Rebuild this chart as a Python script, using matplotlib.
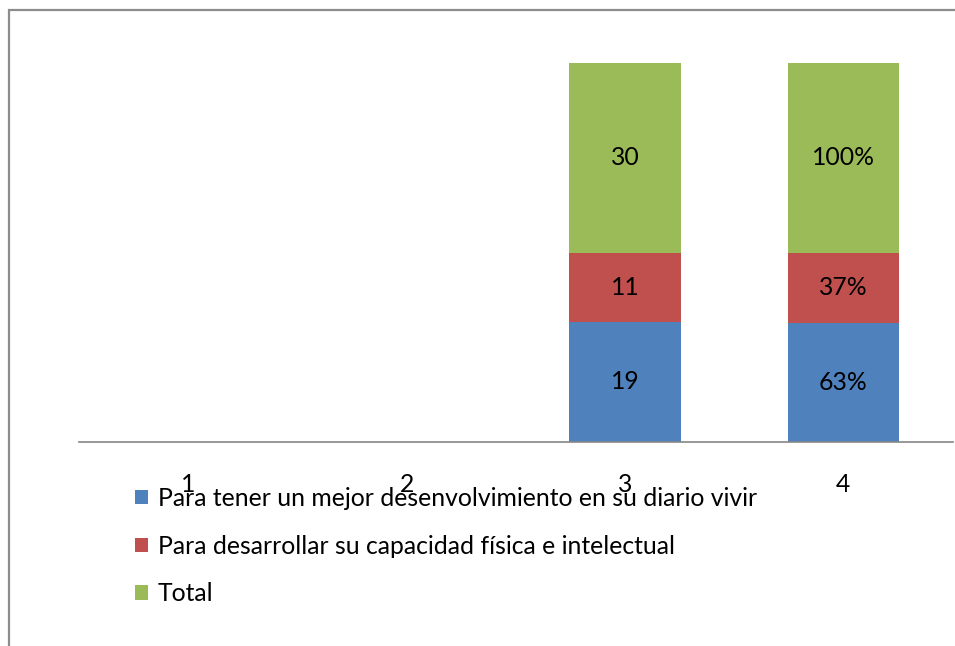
import matplotlib
matplotlib.use("Agg")
import matplotlib.pyplot as plt
import numpy as np
from matplotlib.patches import Rectangle, Patch

categories = ["1", "2", "3", "4"]
series_names = [
    "Para tener un mejor desenvolvimiento en su diario vivir",
    "Para desarrollar su capacidad física e intelectual",
    "Total",
]
serie_mejor = [np.nan, np.nan, 19, 0.63]
serie_capacidad = [np.nan, np.nan, 11, 0.37]
serie_total = [np.nan, np.nan, 30, 1.00]
label_formats = [None, None, "{:.0f}", "{:.0%}"]

colors = ["#4F81BD", "#C0504D", "#9BBB59"]

plt.rcParams["font.family"] = ["Lato", "DejaVu Sans"]
FS = 17.8

W, H = 955, 646
fig = plt.figure(figsize=(W / 100, H / 100), dpi=100)
fig.patch.set_facecolor("white")

# chart border
fig.add_artist(Rectangle((9 / W, -0.1), 1.2, 1 - 10 / H + 0.1, transform=fig.transFigure,
                         fill=False, edgecolor="#8C8C8C", linewidth=1.6))

ax = fig.add_axes([79 / W, 1 - 442 / H, (952.5 - 79) / W, (442 - 63) / H])

series = [serie_mejor, serie_capacidad, serie_total]
data = np.array(series, dtype=float)
totals = np.nansum(data, axis=0)
x = np.arange(1, len(categories) + 1)
bottom = np.zeros(len(categories))
for i, vals in enumerate(data):
    frac = np.where(totals > 0, vals / np.where(totals > 0, totals, 1), np.nan)
    ax.bar(x, frac, width=0.51, bottom=bottom, color=colors[i], label=series_names[i])
    for j in range(len(categories)):
        if label_formats[j] is None or np.isnan(frac[j]):
            continue
        ax.text(x[j], bottom[j] + frac[j] / 2, label_formats[j].format(vals[j]),
                ha="center", va="center", fontsize=FS, color="black")
    bottom = bottom + np.nan_to_num(frac)

ax.set_xlim(0.5, len(categories) + 0.5)
ax.set_ylim(0, 1)
ax.set_xticks(x)
ax.set_xticklabels(categories, fontsize=FS)
ax.tick_params(axis="x", length=0, pad=22.5)
ax.set_yticks([])
for s in ["top", "right", "left"]:
    ax.spines[s].set_visible(False)
ax.spines["bottom"].set_color("#868686")
ax.spines["bottom"].set_linewidth(1.2)
ax.patch.set_alpha(0)

handles = [Patch(facecolor=c, edgecolor="none") for c in colors]
fig.legend(handles, series_names, loc="upper left", bbox_to_anchor=(135 / W, 1 - 487 / H),
           frameon=False, fontsize=FS, handlelength=0.52, handleheight=0.52,
           handletextpad=0.4, labelspacing=1.0, borderpad=0, borderaxespad=0)

fig.savefig("out.png", dpi=100)
